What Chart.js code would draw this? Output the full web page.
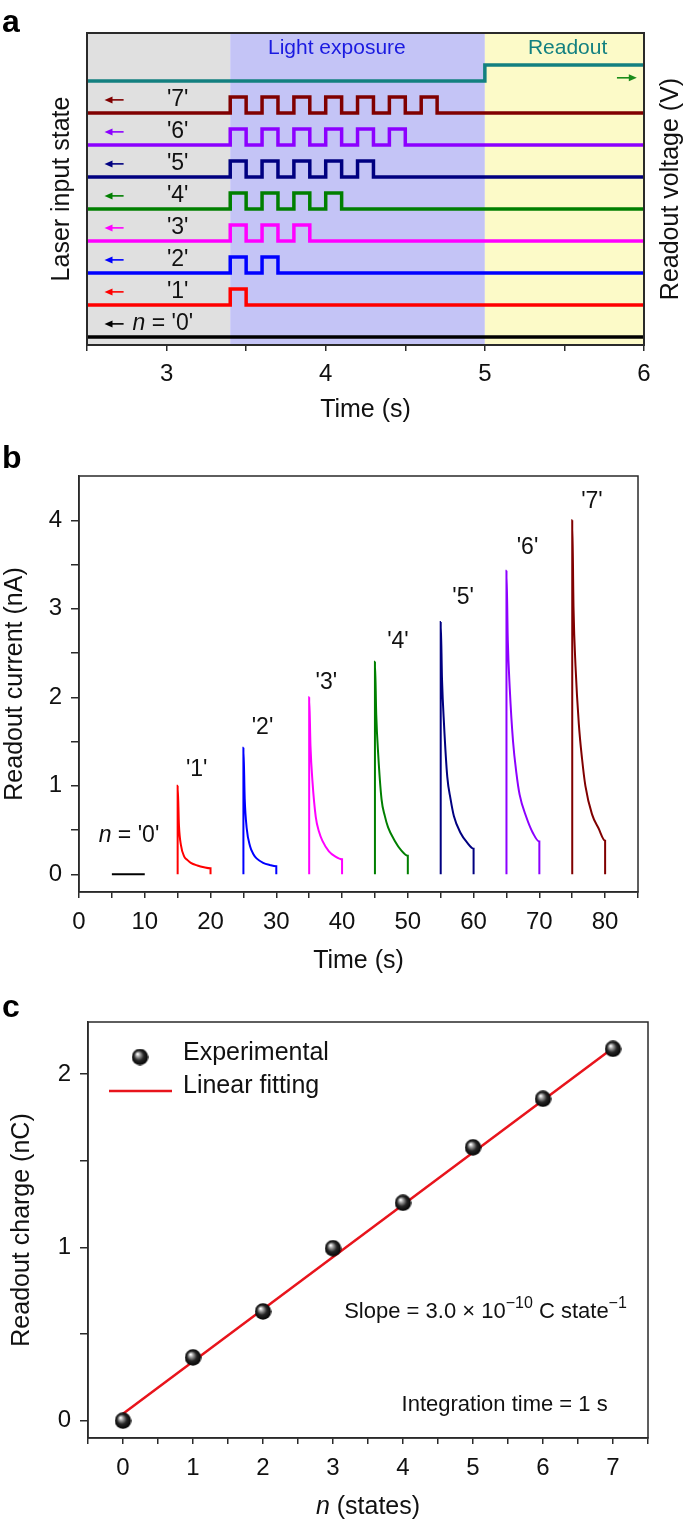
<!DOCTYPE html>
<html>
<head>
<meta charset="utf-8">
<title>Readout figure</title>
<script src="https://cdn.jsdelivr.net/npm/chart.js@4.4.1/dist/chart.umd.min.js"></script>
<style>
  body { margin: 0; background: #fff; }
  #wrap { position: relative; width: 685px; height: 1522px; overflow: hidden; }
  canvas { position: absolute; left: 0; }
</style>
</head>
<body>
<div id="wrap">
  <canvas id="chartA" width="685" height="430" style="top:0"></canvas>
  <canvas id="chartB" width="685" height="565" style="top:430px"></canvas>
  <canvas id="chartC" width="685" height="527" style="top:995px"></canvas>
</div>
<script>
// ---------- data: panel a (timing) ----------
const aTicks = [2.5, 3, 3.5, 4, 4.5, 5, 5.5, 6];
const aStates = [0, 1, 2, 3, 4, 5, 6, 7];
const aPulseOn = [3.4, 3.6, 3.8, 4.0, 4.2, 4.4, 4.6];
const aPulseOff = [3.5, 3.7, 3.9, 4.1, 4.3, 4.5, 4.7];
const aPulseHigh = 0.5;
const aReadoutT = [2.5, 5, 6];
const aReadoutV = [8, 8.5, 8.5];
const aPhaseStart = [2.5, 3.4, 5];
const aPhaseEnd = [3.4, 5, 6];
const aPhaseNames = ['', 'Light exposure', 'Readout'];

// ---------- data: panel b (readout current) ----------
const bTicksX = [0, 5, 10, 15, 20, 25, 30, 35, 40, 45, 50, 55, 60, 65, 70, 75, 80, 85];
const bTicksY = [0, 0.5, 1, 1.5, 2, 2.5, 3, 3.5, 4];
const bZeroT = [5, 10];
const bZeroI = [0, 0];
const bOnset = [15, 25, 35, 45, 55, 65, 75];
const bEnd = [20, 30, 40, 50, 60, 70, 80];
const bDecayT = [0, 0.2, 0.5, 1, 1.5, 2, 3, 4, 5];
const bCur1 = [1.00, 0.55, 0.33, 0.20, 0.16, 0.13, 0.10, 0.08, 0.068];
const bCur2 = [1.43, 0.85, 0.52, 0.32, 0.23, 0.18, 0.13, 0.105, 0.09];
const bCur3 = [2.00, 1.45, 1.05, 0.65, 0.48, 0.38, 0.26, 0.20, 0.17];
const bCur4 = [2.40, 1.80, 1.35, 0.85, 0.66, 0.53, 0.38, 0.27, 0.21];
const bCur5 = [2.85, 2.20, 1.70, 1.10, 0.85, 0.66, 0.47, 0.36, 0.29];
const bCur6 = [3.43, 2.65, 2.10, 1.50, 1.15, 0.90, 0.65, 0.47, 0.37];
const bCur7 = [4.00, 3.00, 2.35, 1.70, 1.30, 1.00, 0.68, 0.52, 0.38];
const bLabelT = [17.9, 27.9, 37.6, 48.5, 58.4, 68.2, 78.0];
const bLabelI = [1.18, 1.66, 2.17, 2.63, 3.12, 3.69, 4.21];

// ---------- data: panel c (readout charge) ----------
const cTicksX = [-0.5, 0, 0.5, 1, 1.5, 2, 2.5, 3, 3.5, 4, 4.5, 5, 5.5, 6, 6.5, 7, 7.5];
const cTicksY = [0, 0.5, 1, 1.5, 2];
const cStates = [0, 1, 2, 3, 4, 5, 6, 7];
const cCharge = [0.0, 0.365, 0.63, 0.995, 1.257, 1.577, 1.857, 2.145];
const cFitN = [0, 7];
const cFitQ = [0.04, 2.15];

// ---------- styles ----------
const FONT = "'Liberation Sans', Arial, Helvetica, sans-serif";
const stateColors = ['#000000', '#ff0000', '#0000ff', '#ff00ff', '#007f00', '#000080', '#8c00ff', '#800000'];
const teal = '#138080';
const phaseFill = ['#e0e0e0', '#c4c4f6', '#fcfac8'];
const phaseText = ['#000', '#1a1ae0', '#138080'];

Chart.defaults.font.family = FONT;
Chart.defaults.font.size = 24;
Chart.defaults.color = '#111';
Chart.defaults.animation = false;
Chart.defaults.plugins.legend.display = false;
Chart.defaults.plugins.tooltip.enabled = false;

function fixedTicks(values) {
  return s => { s.ticks = values.map(v => ({ value: v })); };
}
// label only every `step` (others are minor ticks)
function labelEvery(step) {
  return v => (Math.abs(v / step - Math.round(v / step)) < 1e-9 ? String(v) : '');
}
function arrow(ctx, xFrom, xTo, y, color) {
  const dir = Math.sign(xTo - xFrom);
  ctx.strokeStyle = color;
  ctx.fillStyle = color;
  ctx.lineWidth = 1.6;
  ctx.beginPath();
  ctx.moveTo(xFrom, y);
  ctx.lineTo(xTo - dir * 5, y);
  ctx.stroke();
  ctx.beginPath();
  ctx.moveTo(xTo, y);
  ctx.lineTo(xTo - dir * 8, y - 3.5);
  ctx.lineTo(xTo - dir * 8, y + 3.5);
  ctx.closePath();
  ctx.fill();
}
// text made of several pieces (italic n, superscripts)
function drawRuns(ctx, runs, x, y, align) {
  let w = 0;
  runs.forEach(r => { ctx.font = r.font; r.w = ctx.measureText(r.t).width; w += r.w; });
  let cx = align === 'center' ? x - w / 2 : x;
  ctx.textAlign = 'left';
  runs.forEach(r => { ctx.font = r.font; ctx.fillText(r.t, cx, y + (r.dy || 0)); cx += r.w; });
}
function panelLetter(ctx, s, x, y) {
  ctx.save();
  ctx.font = `bold 32px ${FONT}`;
  ctx.fillStyle = '#000';
  ctx.textAlign = 'left';
  ctx.textBaseline = 'alphabetic';
  ctx.fillText(s, x, y);
  ctx.restore();
}
function frame(ctx, ca, w) {
  ctx.strokeStyle = '#2a2a2a';
  ctx.lineWidth = w;
  ctx.strokeRect(ca.left, ca.top, ca.right - ca.left, ca.bottom - ca.top);
}
function xAxis(min, max, ticks, step, height, pad, title, titlePad) {
  return {
    type: 'linear', min: min, max: max,
    afterBuildTicks: fixedTicks(ticks),
    afterFit: s => { s.height = height; },
    grid: { drawOnChartArea: false, tickLength: 6, color: '#2a2a2a', lineWidth: 1.5 },
    border: { color: '#2a2a2a', width: 1.5 },
    ticks: { callback: labelEvery(step), padding: pad, autoSkip: false, maxRotation: 0, color: '#111' },
    title: { display: !!title, text: title, color: '#111', font: { size: 25 },
             padding: { top: 0, bottom: titlePad } }
  };
}
function yAxis(min, max, ticks, width, title, titlePad) {
  return {
    type: 'linear', min: min, max: max,
    afterBuildTicks: fixedTicks(ticks),
    afterFit: s => { s.width = width; },
    grid: { drawOnChartArea: false, tickLength: 8, color: '#2a2a2a', lineWidth: 1.5 },
    border: { color: '#2a2a2a', width: 1.5 },
    ticks: { callback: labelEvery(1), padding: 9, autoSkip: false, color: '#111' },
    title: { display: true, text: title, color: '#111', font: { size: 25 },
             padding: { top: titlePad, bottom: 0 } }
  };
}

// ================= panel a =================
const aDatasets = aStates.map(n => {
  const pts = [{ x: aTicks[0], y: n }];
  for (let i = 0; i < n; i++) {
    pts.push({ x: aPulseOn[i], y: n + aPulseHigh });
    pts.push({ x: aPulseOff[i], y: n });
  }
  pts.push({ x: aTicks[aTicks.length - 1], y: n });
  return { data: pts, borderColor: stateColors[n], borderWidth: 3.5, stepped: true,
           pointRadius: 0, borderJoinStyle: 'miter' };
});
aDatasets.push({
  data: aReadoutT.map((t, i) => ({ x: t, y: aReadoutV[i] })),
  borderColor: teal, borderWidth: 3.5, stepped: true, pointRadius: 0, borderJoinStyle: 'miter'
});

const aDecor = {
  id: 'aDecor',
  beforeDatasetsDraw(chart) {
    const { ctx, chartArea: ca, scales: { x } } = chart;
    ctx.save();
    aPhaseStart.forEach((t, i) => {
      const x0 = x.getPixelForValue(t), x1 = x.getPixelForValue(aPhaseEnd[i]);
      ctx.fillStyle = phaseFill[i];
      ctx.fillRect(x0, ca.top, x1 - x0, ca.bottom - ca.top);
    });
    ctx.restore();
  },
  afterDatasetsDraw(chart) {
    const { ctx, chartArea: ca, scales: { x, y } } = chart;
    ctx.save();
    ctx.textBaseline = 'middle';
    ctx.textAlign = 'center';
    ctx.font = `21px ${FONT}`;
    const nameT = [0, 4.07, 5.52];
    aPhaseNames.forEach((s, i) => {
      if (!s) return;
      ctx.fillStyle = phaseText[i];
      ctx.fillText(s, x.getPixelForValue(nameT[i]), y.getPixelForValue(9.03));
    });
    aStates.forEach(n => {
      const yy = y.getPixelForValue(n + 0.41);
      arrow(ctx, x.getPixelForValue(2.73), x.getPixelForValue(2.61), yy, stateColors[n]);
      ctx.fillStyle = '#111';
      if (n === 0) {
        drawRuns(ctx, [
          { t: 'n', font: `italic 23px ${FONT}` },
          { t: " = '0'", font: `23px ${FONT}` }
        ], x.getPixelForValue(2.786), yy, 'left');
      } else {
        ctx.font = `23px ${FONT}`;
        ctx.textAlign = 'center';
        ctx.fillText("'" + n + "'", x.getPixelForValue(3.07), yy);
      }
    });
    arrow(ctx, x.getPixelForValue(5.83), x.getPixelForValue(5.955), y.getPixelForValue(8.1), '#1a8c1a');
    frame(ctx, ca, 2);
    ctx.restore();
  },
  afterDraw(chart) {
    const { ctx, chartArea: ca } = chart;
    ctx.save();
    ctx.translate(671, (ca.top + ca.bottom) / 2);
    ctx.rotate(-Math.PI / 2);
    ctx.font = `25px ${FONT}`;
    ctx.fillStyle = '#111';
    ctx.textAlign = 'center';
    ctx.textBaseline = 'middle';
    ctx.fillText('Readout voltage (V)', 0, 0);
    ctx.restore();
    panelLetter(ctx, 'a', 2, 32);
  }
};

const aY = yAxis(-0.25, 9.5, [], 87, 'Laser input state', 47);
aY.ticks.display = false;
aY.grid.display = false;
aY.border.display = false;

new Chart(document.getElementById('chartA'), {
  type: 'line',
  data: { datasets: aDatasets },
  options: {
    responsive: false,
    layout: { padding: { top: 33, right: 41, left: 0, bottom: 0 } },
    scales: {
      x: xAxis(2.5, 6, aTicks, 1, 85, 9, 'Time (s)', 5),
      y: aY
    }
  },
  plugins: [aDecor]
});

// ================= panel b =================
const bCurves = [bCur1, bCur2, bCur3, bCur4, bCur5, bCur6, bCur7];
const bDatasets = bCurves.map((cur, i) => {
  const pts = [{ x: bOnset[i], y: 0 }];
  bDecayT.forEach((dt, k) => pts.push({ x: bOnset[i] + dt, y: cur[k] }));
  pts.push({ x: bEnd[i], y: 0 });
  return { data: pts, borderColor: stateColors[i + 1], borderWidth: 2, pointRadius: 0,
           cubicInterpolationMode: 'monotone' };
});
bDatasets.unshift({
  data: bZeroT.map((t, i) => ({ x: t, y: bZeroI[i] })),
  borderColor: '#000', borderWidth: 2, pointRadius: 0
});

const bDecor = {
  id: 'bDecor',
  afterDatasetsDraw(chart) {
    const { ctx, chartArea: ca, scales: { x, y } } = chart;
    ctx.save();
    frame(ctx, ca, 1.5);
    ctx.fillStyle = '#111';
    ctx.textBaseline = 'middle';
    ctx.textAlign = 'center';
    ctx.font = `23px ${FONT}`;
    bLabelT.forEach((t, i) => {
      ctx.fillText("'" + (i + 1) + "'", x.getPixelForValue(t), y.getPixelForValue(bLabelI[i]));
    });
    drawRuns(ctx, [
      { t: 'n', font: `italic 23px ${FONT}` },
      { t: " = '0'", font: `23px ${FONT}` }
    ], x.getPixelForValue(7.6), y.getPixelForValue(0.44), 'center');
    ctx.restore();
    panelLetter(ctx, 'b', 2, 38);
  }
};

new Chart(document.getElementById('chartB'), {
  type: 'line',
  data: { datasets: bDatasets },
  options: {
    responsive: false,
    layout: { padding: { top: 46, right: 47, left: 0, bottom: 0 } },
    scales: {
      x: xAxis(0, 85, bTicksX, 10, 103, 10, 'Time (s)', 19),
      y: yAxis(-0.2, 4.5, bTicksY, 79, 'Readout current (nA)', 0)
    }
  },
  plugins: [bDecor]
});

// ================= panel c =================
const sphere = document.createElement('canvas');
sphere.width = 17;
sphere.height = 17;
(function () {
  const g = sphere.getContext('2d');
  const grd = g.createRadialGradient(6, 5.5, 0.5, 8.5, 8.5, 8.5);
  grd.addColorStop(0, '#ffffff');
  grd.addColorStop(0.2, '#a8a8a8');
  grd.addColorStop(0.55, '#262626');
  grd.addColorStop(1, '#000000');
  g.fillStyle = grd;
  g.beginPath();
  g.arc(8.5, 8.5, 8.2, 0, Math.PI * 2);
  g.fill();
})();

const cDecor = {
  id: 'cDecor',
  afterDatasetsDraw(chart) {
    const { ctx, chartArea: ca, scales: { x, y } } = chart;
    ctx.save();
    frame(ctx, ca, 1.5);
    // legend
    ctx.drawImage(sphere, 140 - 8.5, 62 - 8.5);
    ctx.strokeStyle = '#e8141c';
    ctx.lineWidth = 2.5;
    ctx.beginPath();
    ctx.moveTo(109, 96);
    ctx.lineTo(172, 96);
    ctx.stroke();
    ctx.fillStyle = '#111';
    ctx.textBaseline = 'middle';
    ctx.textAlign = 'left';
    ctx.font = `25px ${FONT}`;
    ctx.fillText('Experimental', 183, 58);
    ctx.fillText('Linear fitting', 183, 91);
    // annotations
    drawRuns(ctx, [
      { t: 'Slope = 3.0 \u00d7 10', font: `22px ${FONT}` },
      { t: '\u221210', font: `16px ${FONT}`, dy: -8 },
      { t: ' C state', font: `22px ${FONT}` },
      { t: '\u22121', font: `16px ${FONT}`, dy: -8 }
    ], x.getPixelForValue(3.16), y.getPixelForValue(0.63), 'left');
    ctx.font = `22px ${FONT}`;
    ctx.fillText('Integration time = 1 s', x.getPixelForValue(3.98), y.getPixelForValue(0.09));
    ctx.restore();
  },
  afterDraw(chart) {
    const { ctx, chartArea: ca } = chart;
    ctx.save();
    ctx.fillStyle = '#111';
    ctx.textBaseline = 'middle';
    drawRuns(ctx, [
      { t: 'n', font: `italic 25px ${FONT}` },
      { t: ' (states)', font: `25px ${FONT}` }
    ], (ca.left + ca.right) / 2, 512, 'center');
    ctx.restore();
    panelLetter(ctx, 'c', 2, 22);
  }
};

new Chart(document.getElementById('chartC'), {
  type: 'line',
  data: {
    datasets: [
      {
        data: cStates.map((n, i) => ({ x: n, y: cCharge[i] })),
        showLine: false, pointStyle: sphere, pointRadius: 8, order: 0
      },
      {
        data: cFitN.map((n, i) => ({ x: n, y: cFitQ[i] })),
        borderColor: '#e8141c', borderWidth: 2.5, pointRadius: 0, order: 1
      }
    ]
  },
  options: {
    responsive: false,
    layout: { padding: { top: 27, right: 37, left: 0, bottom: 0 } },
    scales: {
      x: xAxis(-0.5, 7.5, cTicksX, 1, 84, 10, '', 0),
      y: yAxis(-0.1, 2.3, cTicksY, 88, 'Readout charge (nC)', 7)
    }
  },
  plugins: [cDecor]
});
</script>
</body>
</html>
